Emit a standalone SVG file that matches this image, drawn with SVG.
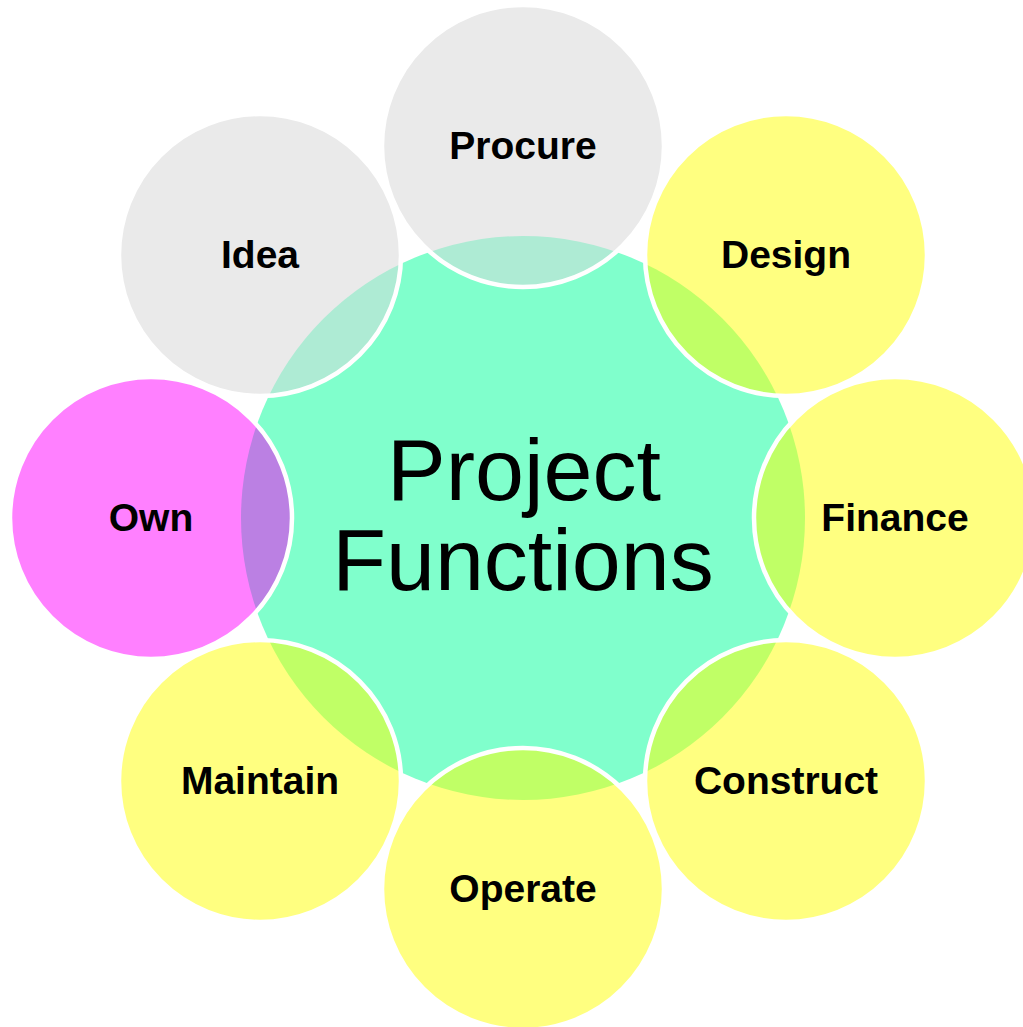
<svg xmlns="http://www.w3.org/2000/svg" width="1023" height="1027" viewBox="0 0 1023 1027">
<style>
.gray{fill:#EAEAEA}
.yel{fill:#FFFF80}
.mag{fill:#FF80FF}
.lgray{fill:#AEEBD4}
.lyel{fill:#C0FF66}
.lmag{fill:#BB80E3}
.edge{fill:none;stroke:#FFFFFF;stroke-width:4.5}
.lbl{font-family:"Liberation Sans",Arial,sans-serif;font-weight:bold;font-size:39px;fill:#000;text-anchor:middle}
.main{font-family:"Liberation Sans",Arial,sans-serif;font-size:88px;fill:#000;text-anchor:middle}
</style>
<defs>
<clipPath id="core"><circle cx="523" cy="518" r="282"/></clipPath>
</defs>
<rect width="1023" height="1027" fill="#FFFFFF"/>
<g id="center">
<circle cx="523" cy="518" r="282" fill="#80FFCC"/>
</g>
<g id="procure">
<circle class="gray" cx="523" cy="146" r="141"/>
<circle class="lgray" cx="523" cy="146" r="141" clip-path="url(#core)"/>
<circle class="edge" cx="523" cy="146" r="141"/>
<text class="lbl" x="523" y="159">Procure</text>
</g>
<g id="design">
<circle class="yel" cx="786" cy="255" r="141"/>
<circle class="lyel" cx="786" cy="255" r="141" clip-path="url(#core)"/>
<circle class="edge" cx="786" cy="255" r="141"/>
<text class="lbl" x="786" y="268">Design</text>
</g>
<g id="finance">
<circle class="yel" cx="895" cy="518" r="141"/>
<circle class="lyel" cx="895" cy="518" r="141" clip-path="url(#core)"/>
<circle class="edge" cx="895" cy="518" r="141"/>
<text class="lbl" x="895" y="531">Finance</text>
</g>
<g id="construct">
<circle class="yel" cx="786" cy="781" r="141"/>
<circle class="lyel" cx="786" cy="781" r="141" clip-path="url(#core)"/>
<circle class="edge" cx="786" cy="781" r="141"/>
<text class="lbl" x="786" y="794">Construct</text>
</g>
<g id="operate">
<circle class="yel" cx="523" cy="889" r="141"/>
<circle class="lyel" cx="523" cy="889" r="141" clip-path="url(#core)"/>
<circle class="edge" cx="523" cy="889" r="141"/>
<text class="lbl" x="523" y="902">Operate</text>
</g>
<g id="maintain">
<circle class="yel" cx="260" cy="781" r="141"/>
<circle class="lyel" cx="260" cy="781" r="141" clip-path="url(#core)"/>
<circle class="edge" cx="260" cy="781" r="141"/>
<text class="lbl" x="260" y="794">Maintain</text>
</g>
<g id="own">
<circle class="mag" cx="151" cy="518" r="141"/>
<circle class="lmag" cx="151" cy="518" r="141" clip-path="url(#core)"/>
<circle class="edge" cx="151" cy="518" r="141"/>
<text class="lbl" x="151" y="531">Own</text>
</g>
<g id="idea">
<circle class="gray" cx="260" cy="255" r="141"/>
<circle class="lgray" cx="260" cy="255" r="141" clip-path="url(#core)"/>
<circle class="edge" cx="260" cy="255" r="141"/>
<text class="lbl" x="260" y="268">Idea</text>
</g>
<g id="title">
<text class="main" x="524" y="500">Project</text>
<text class="main" x="523" y="590">Functions</text>
</g>
</svg>
